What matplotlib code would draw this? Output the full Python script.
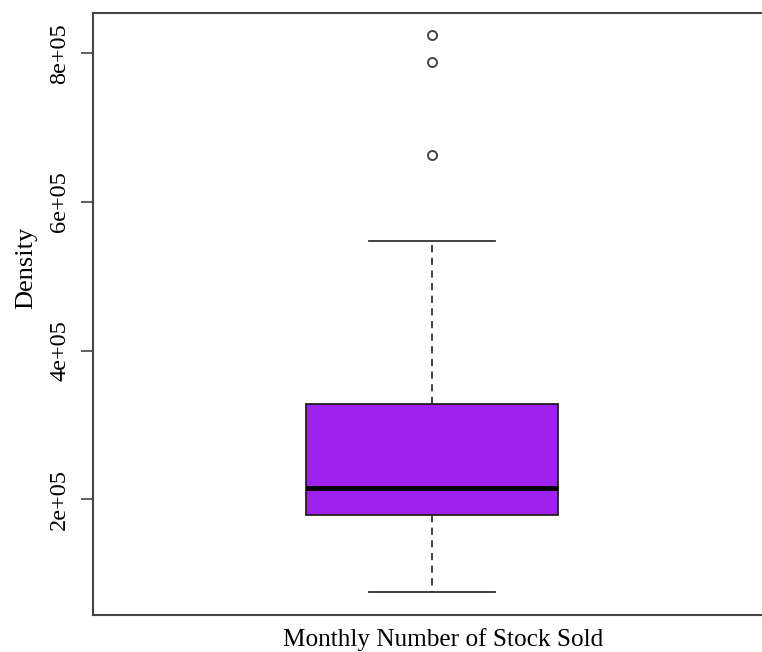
import matplotlib.pyplot as plt

# summary of monthly stock sold
q1 = 178900
med = 214400
q3 = 327800
whislo = 74500
whishi = 547400
fliers = [662700, 788700, 825000]

yticks = [200000, 400000, 600000, 800000]
ytick_labels = ["2e+05", "4e+05", "6e+05", "8e+05"]

plt.rcParams['font.family'] = ['Liberation Serif', 'DejaVu Serif']

fig = plt.figure(figsize=(7.62, 6.52), dpi=100)
ax = fig.add_axes([0.1214, 0.0567, 0.891, 0.9241])

stats = [{"med": med, "q1": q1, "q3": q3, "whislo": whislo, "whishi": whishi,
          "fliers": fliers, "label": ""}]
ax.bxp(stats, positions=[1], widths=0.371, patch_artist=True,
       boxprops=dict(facecolor="#A020F0", edgecolor="#222222", linewidth=1.3),
       medianprops=dict(color="black", linewidth=3.5, solid_capstyle="butt"),
       whiskerprops=dict(color="#333333", linewidth=1.3, linestyle=(0, (4, 3))),
       capprops=dict(color="#333333", linewidth=1.3),
       capwidths=0.186,
       flierprops=dict(marker="o", markerfacecolor="none", markeredgecolor="#444444",
                       markersize=6.5, markeredgewidth=1.4))

ax.set_xlim(0.5, 1.5)
ax.set_ylim(44000, 855000)
ax.set_yticks(yticks)
ax.set_yticklabels(ytick_labels, rotation=90, va="center", fontsize=17.5)
ax.set_xticks([])
ax.tick_params(axis="y", length=9, width=1.2, color="#444444", pad=7)

for side in ["left", "bottom", "top", "right"]:
    ax.spines[side].set_color("#444444")
    ax.spines[side].set_linewidth(1.5)

ax.set_ylabel("Density", fontsize=19)
ax.yaxis.set_label_coords(-0.081, 0.576)
ax.set_xlabel("Monthly Number of Stock Sold", fontsize=18.2)
ax.xaxis.set_label_coords(0.516, -0.022)
ax.xaxis.label.set_va("top")

fig.savefig("out.png", dpi=100)
